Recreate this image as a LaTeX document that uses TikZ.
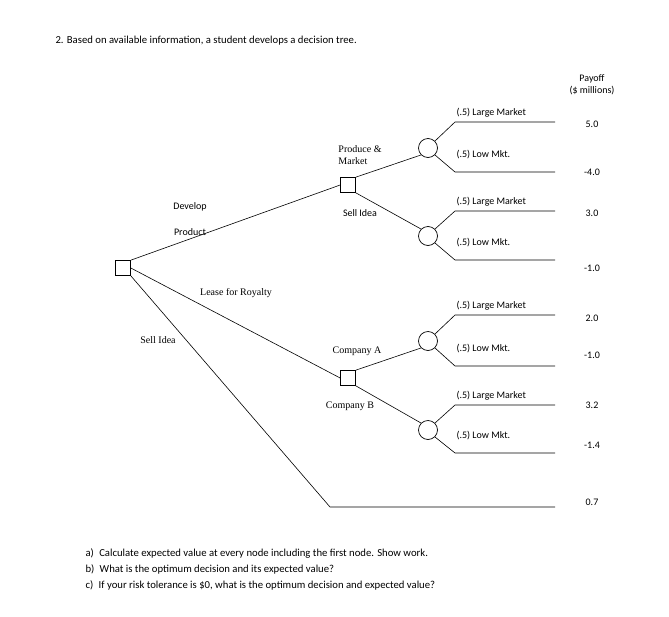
\documentclass[tikz,border=0pt]{standalone}
\usepackage{fontspec}
\setmainfont{Carlito}
\newfontfamily\tms{Liberation Serif}
\begin{document}
\begin{tikzpicture}[x=1pt,y=-1pt,
 dec/.style={draw,minimum size=15pt,inner sep=0pt,line width=0.7pt},
 chn/.style={draw,circle,minimum size=19pt,inner sep=0pt,line width=0.7pt},
 ln/.style={line width=0.6pt},
 sl/.style={font=\fontsize{10}{12}\selectfont},
 tl/.style={font=\tms\fontsize{10}{12}\selectfont,align=left}]
\useasboundingbox (0,0) rectangle (669,616);
\node[anchor=west,font=\fontsize{10.7}{12}\selectfont] (t) at (52,41) {2. Based on available information, a student develops a decision tree.};
\node[sl,align=center] (ph) at (592,85) {Payoff\\(\$ millions)};
\node[dec] (r) at (123,268) {};
\node[dec] (d1) at (348,185) {};
\node[dec] (d2) at (348,378) {};
\node[chn] (c1) at (428,148) {};
\node[chn] (c2) at (428,236) {};
\node[chn] (c3) at (428,341) {};
\node[chn] (c4) at (428,430) {};
\coordinate (s1) at (330,507); \coordinate (s2) at (555,507);
\draw[ln] (r.north east) -- (d1.west);
\draw[ln] (r.east) -- (d2.west);
\draw[ln] (r.south east) -- (s1) -- (s2);
\draw[ln] (d1.north east) -- (c1.south west);
\draw[ln] (d1.south east) -- (c2.north west);
\draw[ln] (d2.north east) -- (c3.south west);
\draw[ln] (d2.south east) -- (c4.north west);
\foreach \c/\ya/\yb in {c1/122/172,c2/211/260,c3/315/366,c4/405/453}{
 \coordinate (\c a) at (455,\ya); \coordinate (\c ae) at (555,\ya);
 \coordinate (\c b) at (455,\yb); \coordinate (\c be) at (555,\yb);
 \draw[ln] (\c.north east) -- (\c a) -- (\c ae);
 \draw[ln] (\c.south east) -- (\c b) -- (\c be);
 \node[sl,anchor=south west] (\c la) at (453,\ya-1) {(.5) Large Market};
 \node[sl,anchor=north west] (\c lb) at (453,\yb-25) {(.5) Low Mkt.};
}
\foreach \v/\y [count=\i] in {5.0/124,-4.0/172,3.0/213,-1.0/268,2.0/318,-1.0/355,3.2/405,-1.4/445,0.7/502}
 \node[sl] (p\i) at (592,\y) {\v};
\node[tl] (l1) at (360,155) {Produce \&\\Market};
\node[sl] (l2) at (360,213) {Sell Idea};
\node[sl] (l3) at (190,207) {Develop};
\node[sl] (l4) at (190,232) {Product};
\node[tl] (l5) at (236,293) {Lease for Royalty};
\node[tl] (l6) at (158,340) {Sell Idea};
\node[tl] (l7) at (357,351) {Company A};
\node[tl] (l8) at (350,406) {Company B};
\node[anchor=north west,align=left,font=\fontsize{10.7}{16}\selectfont] (q) at (82,545)
 {a)\enspace Calculate expected value at every node including the first node. Show work.\\
  b)\enspace What is the optimum decision and its expected value?\\
  c)\enspace If your risk tolerance is \$0, what is the optimum decision and expected value?};
\end{tikzpicture}
\end{document}
